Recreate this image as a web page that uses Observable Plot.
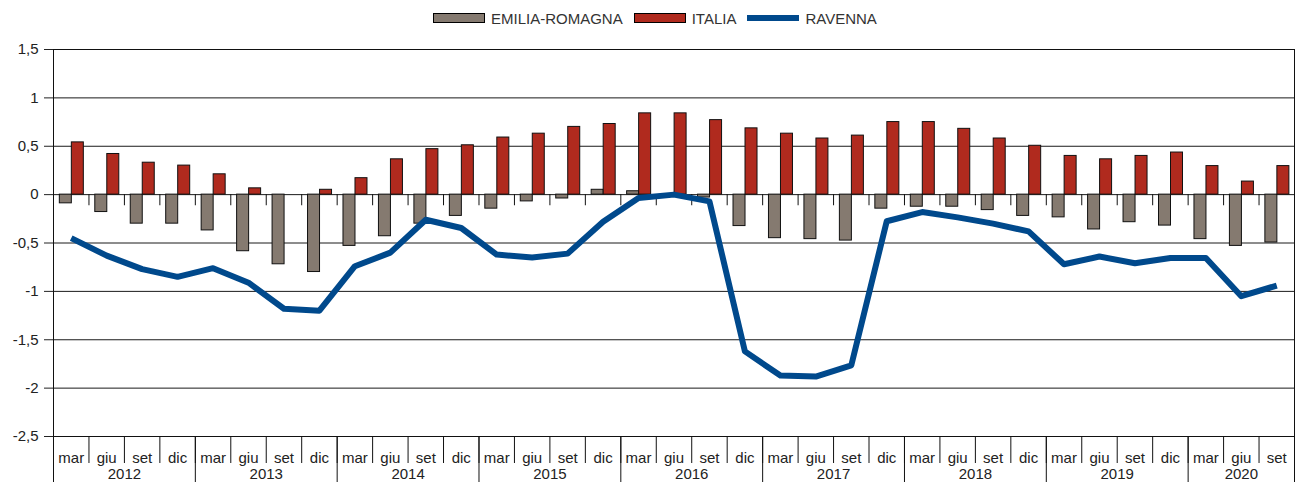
<!DOCTYPE html>
<html>
<head>
<meta charset="utf-8">
<script src="https://cdn.jsdelivr.net/npm/d3@7"></script>
<script src="https://cdn.jsdelivr.net/npm/@observablehq/plot@0.6"></script>
<style>
  html, body { margin: 0; padding: 0; background: #fff; }
  body { width: 1299px; height: 482px; overflow: hidden; font-family: "Liberation Sans", Arial, sans-serif; }
  #legend { height: 35px; display: flex; align-items: center; padding-left: 433px; box-sizing: border-box; font-size: 15px; color: #333; padding-top: 1px; }
  #legend .sw { width: 52px; height: 10px; box-sizing: border-box; border: 1px solid #000; margin-right: 6px; }
  #legend .ln { width: 52px; height: 6px; margin-right: 6px; }
  #legend .lab { margin-right: 11px; }
  #chart svg { display: block; }
</style>
</head>
<body>
<div id="legend"></div>
<div id="chart"></div>
<script>
// ---- data ----
const yearLabels = ["2012", "2013", "2014", "2015", "2016", "2017", "2018", "2019", "2020"];
const quartersPerYear = [4, 4, 4, 4, 4, 4, 4, 4, 3];
const quarterLabels = ["mar", "giu", "set", "dic"];
const seriesNames = ["EMILIA-ROMAGNA", "ITALIA", "RAVENNA"];

const emiliaRomagna = [-0.09, -0.18, -0.30, -0.30, -0.37, -0.585, -0.72, -0.80, -0.53, -0.43, -0.30, -0.22,
  -0.145, -0.07, -0.04, 0.05, 0.035, -0.01, -0.03, -0.325, -0.45, -0.46, -0.475, -0.145,
  -0.125, -0.125, -0.16, -0.22, -0.235, -0.36, -0.285, -0.32, -0.46, -0.53, -0.495];
const italia = [0.54, 0.42, 0.33, 0.30, 0.21, 0.065, 0.0, 0.05, 0.17, 0.365, 0.47, 0.51,
  0.59, 0.63, 0.70, 0.73, 0.84, 0.84, 0.77, 0.685, 0.63, 0.58, 0.61, 0.75,
  0.75, 0.68, 0.58, 0.505, 0.40, 0.365, 0.40, 0.435, 0.295, 0.135, 0.295];
const ravenna = [-0.45, -0.63, -0.77, -0.85, -0.76, -0.91, -1.18, -1.20, -0.74, -0.60, -0.26, -0.345,
  -0.62, -0.65, -0.61, -0.28, -0.035, 0.0, -0.07, -1.62, -1.87, -1.88, -1.765, -0.275,
  -0.18, -0.235, -0.30, -0.38, -0.72, -0.64, -0.71, -0.655, -0.655, -1.05, -0.94];
const yTicks = [1.5, 1, 0.5, 0, -0.5, -1, -1.5, -2, -2.5];

// ---- styles ----
const colGray = "#857a70";
const colRed = "#b02a1e";
const colBlue = "#00498c";

// ---- build tables ----
const rows = [];
const yearRows = [];
let idx = 0;
yearLabels.forEach((y, k) => {
  yearRows.push({year: y, start: idx, n: quartersPerYear[k]});
  for (let q = 0; q < quartersPerYear[k]; q++) {
    rows.push({i: idx, q: quarterLabels[q], year: y, er: emiliaRomagna[idx], it: italia[idx], rav: ravenna[idx]});
    idx++;
  }
});
const N = rows.length;
const boundaries = d3.range(0, N + 1);
const innerBoundaries = d3.range(1, N);
const yearBoundaries = yearRows.map(d => d.start).concat([N]);

// legend
const legend = document.getElementById("legend");
legend.innerHTML =
  `<div class="sw" style="background:${colGray}"></div><span class="lab">${seriesNames[0]}</span>` +
  `<div class="sw" style="background:${colRed}"></div><span class="lab">${seriesNames[1]}</span>` +
  `<div class="ln" style="background:${colBlue}"></div><span class="lab">${seriesNames[2]}</span>`;

const W = 1299, ML = 53, MR = 5;
const step = (W - ML - MR) / N;
const barW = 12, shift = 0.6;
const half = step / 2;

const fmt = d => String(d).replace(".", ",");

const chart = Plot.plot({
  width: W,
  height: 447,
  marginLeft: ML,
  marginRight: MR,
  marginTop: 14,
  marginBottom: 46,
  style: {fontFamily: "'Liberation Sans', Arial, sans-serif", fontSize: "15px", color: "#222", background: "#fff", overflow: "hidden"},
  x: {domain: [0, N]},
  y: {domain: [-2.5, 1.5]},
  marks: [
    Plot.ruleY(yTicks, {stroke: "#1a1a1a", strokeWidth: 1}),
    Plot.rectY(rows, {x1: "i", x2: d => d.i + 1, y1: 0, y2: "er", fill: colGray, stroke: "#111", strokeWidth: 1,
      insetLeft: half + shift - barW, insetRight: half - shift}),
    Plot.rectY(rows, {x1: "i", x2: d => d.i + 1, y1: 0, y2: "it", fill: colRed, stroke: "#111", strokeWidth: 1,
      insetLeft: half + shift, insetRight: half - shift - barW}),
    Plot.ruleX(innerBoundaries, {y1: 0, y2: -0.115, stroke: "#111"}),
    Plot.line(rows, {x: d => d.i + 0.5, y: "rav", stroke: colBlue, strokeWidth: 6, curve: "linear", strokeLinejoin: "round", strokeLinecap: "butt"}),
    Plot.frame({stroke: "#111"}),
    Plot.axisY(yTicks, {tickSize: 9, tickPadding: 6, tickFormat: fmt, label: null, fontSize: 15, fill: "#222"}),
    Plot.axisX(boundaries, {tickSize: 27, tickFormat: () => "", label: null, stroke: "#111"}),
    Plot.axisX(yearBoundaries, {tickSize: 60, tickFormat: () => "", label: null, stroke: "#111"}),
    Plot.text(rows, {x: d => d.i + 0.5, text: "q", frameAnchor: "bottom", dy: 26, fontSize: 15, fill: "#222"}),
    Plot.text(yearRows, {x: d => d.start + d.n / 2, text: "year", frameAnchor: "bottom", dy: 42, fontSize: 15, fill: "#222"})
  ]
});
document.getElementById("chart").appendChild(chart);
</script>
</body>
</html>
